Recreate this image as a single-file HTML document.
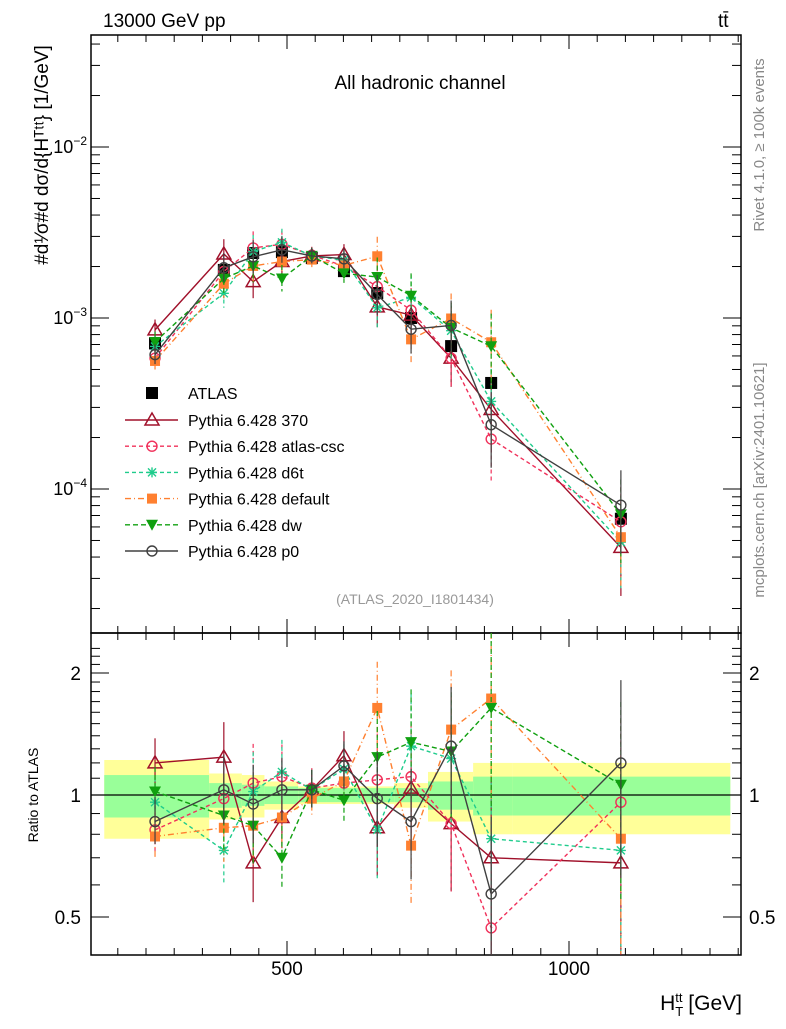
<!DOCTYPE html>
<html><head><meta charset="utf-8"><style>
body{margin:0;background:#fff;}
svg{font-family:"Liberation Sans",sans-serif;}
</style></head><body>
<svg id="c" width="786" height="1024" viewBox="0 0 786 1024" xmlns="http://www.w3.org/2000/svg">
<text x="103" y="27" font-size="19">13000 GeV pp</text>
<text x="718" y="27" font-size="19">tt̄</text>
<text x="420" y="89" font-size="19" text-anchor="middle">All hadronic channel</text>
<text x="415" y="604" font-size="14" fill="#999" text-anchor="middle">(ATLAS_2020_I1801434)</text>
<text transform="translate(764,145) rotate(-90)" font-size="15" fill="#888" text-anchor="middle">Rivet 4.1.0, ≥ 100k events</text>
<text transform="translate(764,480) rotate(-90)" font-size="15" fill="#888" text-anchor="middle">mcplots.cern.ch [arXiv:2401.10621]</text>
<text transform="translate(48,155) rotate(-90)" font-size="19" text-anchor="middle">#d¹⁄σ#d dσ/d{Hᵀᵗᵗ} [1/GeV]</text>
<text transform="translate(38,795) rotate(-90)" font-size="14" text-anchor="middle">Ratio to ATLAS</text>
<text x="742" y="1010" font-size="21" text-anchor="end">H<tspan font-size="13" dy="6">T</tspan><tspan font-size="13" dy="-14" dx="-8">tt</tspan><tspan dy="8"> [GeV]</tspan></text>
<g id="g"></g>
</svg>
<script>
const xCenters=[266,388,440,491,544,601,660,720,791,862,1092];
const binEdges=[176,362,420,460,520,570,630,690,750,830,900,1286];
const atlas=[7.1e-4,1.91e-3,2.4e-3,2.43e-3,2.24e-3,1.88e-3,1.4e-3,1.0e-3,6.85e-4,4.17e-4,6.7e-5];
const yellowHalf=[0.22,0.13,0.12,0.08,0.05,0.05,0.05,0.07,0.14,0.2,0.2];
const greenHalf=[0.12,0.07,0.06,0.05,0.04,0.04,0.04,0.04,0.08,0.11,0.11];
const relErr=[0.15,0.22,0.25,0.2,0.12,0.15,0.3,0.35,0.4,0.55,0.6];
const r370=[1.20,1.24,0.68,0.88,1.03,1.25,0.83,1.04,0.85,0.70,0.68];
const rCsc=[0.82,0.98,1.07,1.11,1.04,1.07,1.09,1.11,0.85,0.47,0.96];
const rD6t=[0.96,0.73,1.02,1.14,1.03,1.16,0.82,1.32,1.23,0.78,0.73];
const rDef=[0.79,0.83,0.84,0.88,0.98,1.08,1.64,0.75,1.45,1.73,0.78];
const rDw=[1.02,0.89,0.84,0.70,1.03,0.97,1.24,1.35,1.28,1.64,1.06];
const rP0=[0.86,1.03,0.95,1.03,1.03,1.18,0.98,0.86,1.32,0.57,1.20];
const names=["Pythia 6.428 370","Pythia 6.428 atlas-csc","Pythia 6.428 d6t","Pythia 6.428 default","Pythia 6.428 dw","Pythia 6.428 p0"];
const X=v=>287+(v-500)*0.564;
const YM=v=>147-(Math.log10(v)+2)*171;
const YR=v=>795-Math.log2(v)*122;
const g=document.getElementById('g');
const NS='http://www.w3.org/2000/svg';
function mk(t,a,p){const e=document.createElementNS(NS,t);for(const k in a)e.setAttribute(k,a[k]);(p||g).appendChild(e);return e;}
const L=91,R=741,T=35,M=633,B=955;
for(let i=0;i<atlas.length;i++){
 const x0=X(binEdges[i]),x1=X(binEdges[i+1]);
 let e=mk('rect',{x:x0,y:YR(1+yellowHalf[i]),width:x1-x0,height:YR(1-yellowHalf[i])-YR(1+yellowHalf[i]),fill:'#ffff99'});
 
 e=mk('rect',{x:x0,y:YR(1+greenHalf[i]),width:x1-x0,height:YR(1-greenHalf[i])-YR(1+greenHalf[i]),fill:'#99ff99'});
 
}
mk('line',{x1:L,x2:R,y1:YR(1),y2:YR(1),stroke:'#000','stroke-width':1.2});
mk('rect',{x:L,y:T,width:R-L,height:M-T,fill:'none',stroke:'#000','stroke-width':1.5});
mk('rect',{x:L,y:M,width:R-L,height:B-M,fill:'none',stroke:'#000','stroke-width':1.5});
for(let v=200;v<=1300;v+=50){const x=X(v);if(x<L||x>R)continue;const big=v%500==0;const l=big?14:7;
 [T,M].forEach(y=>mk('line',{x1:x,x2:x,y1:y,y2:y+l,stroke:'#000'}));
 [M,B].forEach(y=>mk('line',{x1:x,x2:x,y1:y,y2:y-l,stroke:'#000'}));}
[500,1000].forEach(v=>{const t=mk('text',{x:X(v),y:975,'font-size':19,'text-anchor':'middle'});t.textContent=v;});
for(let d=-5;d<=-1;d++)for(let m=1;m<10;m++){const v=m*Math.pow(10,d);const y=YM(v);if(y<T||y>M)continue;const l=m==1?18:9;
 mk('line',{x1:L,x2:L+l,y1:y,y2:y,stroke:'#000'});mk('line',{x1:R,x2:R-l,y1:y,y2:y,stroke:'#000'});}
[-2,-3,-4].forEach(d=>{const t=mk('text',{x:L-4,y:YM(Math.pow(10,d))+6,'font-size':18,'text-anchor':'end'});t.innerHTML='10<tspan font-size="12" dy="-8">−'+(-d)+'</tspan>';});
[0.5,0.6,0.7,0.8,0.9,1,1.1,1.2,1.3,1.4,1.5,1.6,1.7,1.8,1.9,2,2.1,2.2,2.3].forEach(v=>{const y=YR(v);if(y<M||y>B)return;const l=(v==0.5||v==1||v==2)?18:9;
 mk('line',{x1:L,x2:L+l,y1:y,y2:y,stroke:'#000'});mk('line',{x1:R,x2:R-l,y1:y,y2:y,stroke:'#000'});});
[[2,'2'],[1,'1'],[0.5,'0.5']].forEach(([v,s])=>{let t=mk('text',{x:L-10,y:YR(v)+7,'font-size':19,'text-anchor':'end'});t.textContent=s;
 t=mk('text',{x:R+8,y:YR(v)+7,'font-size':19});t.textContent=s;});
const series=[[r370,'#a0102a','','tri'],[rCsc,'#f0305a','4,3','circ'],[rD6t,'#1fcc8c','4,3','star'],[rDef,'#ff8030','6,3,1,3','sq'],[rDw,'#10a010','5,3','dtri'],[rP0,'#404040','','circ']];
function marker(type,x,y,col,p){
 if(type=='tri')mk('path',{d:`M${x},${y-7}L${x+7},${y+5}L${x-7},${y+5}Z`,fill:'none',stroke:col,'stroke-width':1.5},p);
 else if(type=='dtri')mk('path',{d:`M${x-6},${y-5}L${x+6},${y-5}L${x},${y+6}Z`,fill:col},p);
 else if(type=='circ')mk('circle',{cx:x,cy:y,r:5,fill:'none',stroke:col,'stroke-width':1.4},p);
 else if(type=='sq')mk('rect',{x:x-5,y:y-5,width:10,height:10,fill:col},p);
 else if(type=='star')mk('path',{d:`M${x-5},${y}H${x+5}M${x},${y-5}V${y+5}M${x-4},${y-4}L${x+4},${y+4}M${x-4},${y+4}L${x+4},${y-4}`,stroke:col,'stroke-width':1.4},p);
 else if(type=='atlas')mk('rect',{x:x-6,y:y-6,width:12,height:12,fill:'#000'},p);
}
function clampR(v){return Math.min(Math.max(YR(v),M),B);}
const ga=mk('g',{});
atlas.forEach((v,i)=>marker('atlas',X(xCenters[i]),YM(v),'#000',ga));
series.forEach((s,k)=>{
 const [r,col,dash,type]=s;
 const gm=mk('g',{});
 const pm=xCenters.map((x,i)=>X(x)+','+YM(atlas[i]*r[i])).join(' ');
 mk('polyline',{points:pm,fill:'none',stroke:col,'stroke-width':1.4,'stroke-dasharray':dash},gm);
 const pr=xCenters.map((x,i)=>X(x)+','+YR(r[i])).join(' ');
 mk('polyline',{points:pr,fill:'none',stroke:col,'stroke-width':1.4,'stroke-dasharray':dash},gm);
 xCenters.forEach((xx,i)=>{const x=X(xx);const v=atlas[i]*r[i];const e=relErr[i];
  mk('line',{x1:x,x2:x,y1:YM(v*(1+e)),y2:YM(v*(1-e*0.8)),stroke:col,'stroke-width':1.2,'stroke-dasharray':dash},gm);
  mk('line',{x1:x,x2:x,y1:clampR(r[i]*(1+e)),y2:clampR(r[i]*(1-e*0.8)),stroke:col,'stroke-width':1.2,'stroke-dasharray':dash},gm);
  marker(type,x,YM(v),col,gm);marker(type,x,YR(r[i]),col,gm);});
});
const lg=mk('g',{});
marker('atlas',152,393,'#000',lg);
let t=mk('text',{x:188,y:399,'font-size':16},lg);t.textContent='ATLAS';
series.forEach((s,k)=>{const y=420+k*26.2;
 mk('line',{x1:125,x2:178,y1:y,y2:y,stroke:s[1],'stroke-width':1.4,'stroke-dasharray':s[2]},lg);
 marker(s[3],152,y,s[1],lg);
 const t=mk('text',{x:188,y:y+6,'font-size':16},lg);t.textContent=names[k];
 
 });
</script>
</body></html>
